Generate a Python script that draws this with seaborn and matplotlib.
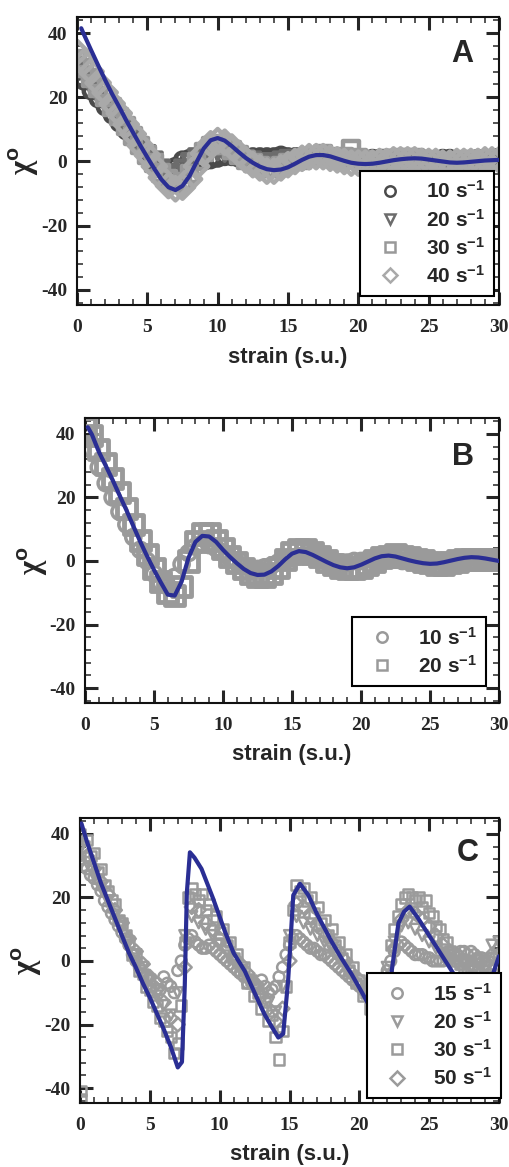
import numpy as np
import matplotlib
matplotlib.use("Agg")
import matplotlib.pyplot as plt
from matplotlib.lines import Line2D
from matplotlib.ticker import MultipleLocator
import seaborn as sns

# ---------------------------------------------------------------- panel A
a_strain = np.arange(0, 30.01, 0.5)
a_rate_10 = [28, 25, 22, 19.5, 17, 14.5, 12, 9.5, 7, 4.5,
             2, -0.5, -2.5, -3, -1.5, 0.5, 1, 0, 0, 0.5,
             1, 1.5, 1.5, 1, 1, 1.5, 1.5, 1.5, 1.5, 2,
             1.5, 1.5, 1.5, 1.5, 1.5, 1, 1, 1, 1, 1,
             1, 0.5, 1, 1, 1, 1, 1, 1, 1, 1,
             0.5, 0.5, 1, 1, 0.5, 0.5, 0.5, 1, 0.5, 0.5,
             0.5]
a_rate_20 = [30, 27, 23.5, 20.5, 18, 15.5, 12.5, 10, 7.5, 5,
             2.5, 0.5, -2, -3.5, -3.5, -2, 0, 1.5, 2.5, 3,
             3, 2.5, 2, 1.5, 1, 0.5, 0, 0, 0, 0.5,
             1, 1, 1.5, 1.5, 1.5, 1, 1, 0.5, 0.5, 0.5,
             0.5, 0.5, 0.5, 0.5, 1, 1, 1, 1, 0.5, 0.5,
             0.5, 0.5, 0, 0, 0, 0.5, 0.5, 0.5, 0.5, 0.5,
             0.5]
a_rate_30 = [32, 29, 26, 23, 20, 17, 14, 11, 8, 5,
             2, -0.5, -3.5, -5.5, -7, -6.5, -4, 0, 3, 5,
             5.5, 5, 3.5, 2, 0.5, -0.5, -1.5, -2, -2, -1.5,
             -0.5, 0, 0.5, 1, 1.5, 2.5, 1.5, 1, 1.5, 4,
             1, 0.5, 0, 0, 0.5, 0.5, 1, 1, 1, 0.5,
             0.5, 0, 0, 0, 0, 0.5, 0.5, 0.5, 0.5, 0.5,
             0.5]
a_rate_40 = [34, 31, 28, 24.5, 21.5, 18, 15, 11.5, 8.5, 5,
             2, -1.5, -5, -7.5, -8.5, -8, -5.5, -1.5, 2.5, 5.5,
             6.5, 6, 4.5, 2.5, 0.5, -1, -2, -3, -3, -2,
             -1, 0, 1, 1.5, 1.5, 1.5, 1, 0.5, 0, -0.5,
             -0.5, -0.5, -0.5, 0, 0, 0.5, 0.5, 0.5, 0.5, 0,
             0, 0, -0.5, -0.5, 0, 0, 0, 0, 0.5, 0.5,
             0.5]
a_fit_strain = np.concatenate([[0.3], np.arange(0.5, 30.01, 0.5)])
a_fit = [41.5, 39.5,
         34.7, 30.0, 25.4, 21.0, 17.0, 12.8, 8.9, 5.0, 1.3, -2.3,
         -5.6, -8.0, -8.9, -7.6, -4.5, -0.2, 4.0, 6.6, 7.3, 6.5,
         4.8, 2.9, 1.1, -0.4, -1.6, -2.4, -2.7, -2.5, -1.8, -0.7,
         0.5, 1.5, 2.0, 2.0, 1.6, 0.9, 0.2, -0.4, -0.7, -0.8,
         -0.7, -0.4, 0.0, 0.4, 0.7, 0.9, 1.0, 0.9, 0.6, 0.3,
         0.0, -0.3, -0.4, -0.3, -0.1, 0.1, 0.3, 0.4, 0.5]
a_labels = ["10 s$^{-1}$", "20 s$^{-1}$", "30 s$^{-1}$", "40 s$^{-1}$"]

# ---------------------------------------------------------------- panel B
b_strain = np.arange(0, 30.01, 0.5)
b_rate_10 = [40, 35, 29.5, 24.5, 20, 15.5, 11.5, 7.5, 3.5, 0,
             -4, -7, -8, -5, -1, 2.5, 4.5, 5.5, 5, 4,
             2.5, 1, -0.5, -1.5, -2.5, -2.5, -2, -1.5, -0.5, 0.5,
             1, 1.5, 1.5, 1, 0.5, 0, -0.5, -0.5, -0.5, 0,
             0, 0.5, 0.5, 0.5, 0.5, 0.5, 0, 0, 0, 0,
             0, 0, 0, 0, 0, 0, 0, 0.5, 0.5, 0.5,
             0.5]
b_rate_20 = [42, 39.5, 35, 30.5, 26, 21.5, 16.5, 11.5, 6.5, 2,
             -2.5, -6.5, -10, -11, -8, 0, 6, 8.5, 8.5, 6.5,
             4, 1.5, -0.5, -2.5, -4, -5, -5, -4, -2, 0.5,
             2.5, 3.5, 3.5, 2.5, 1.5, 0, -1, -2, -2.5, -2.5,
             -2, -1, 0, 1, 1.5, 2, 1.5, 1, 0.5, 0,
             -0.5, -1, -1, -0.5, 0, 0.5, 0.5, 0.5, 0.5, 0.5,
             0.5]
b_fit_strain = np.concatenate([[0.2], np.arange(0.5, 30.01, 0.5)])
b_fit = [42.1, 39.8,
         34.4, 30.0, 25.5, 20.7, 16.0, 11.0, 6.1, 1.5, -2.8, -6.8,
         -10.6, -10.9, -6.5, 1.0, 6.0, 7.9, 7.7, 6.0, 3.5, 1.3,
         -0.7, -2.5, -3.8, -4.4, -4.3, -3.3, -1.6, 0.5, 2.3, 3.1,
         2.8, 1.9, 0.8, -0.3, -1.3, -2.0, -2.3, -2.0, -1.2, -0.2,
         0.8, 1.5, 1.7, 1.4, 0.8, 0.2, -0.3, -0.7, -0.9, -0.8,
         -0.4, 0.1, 0.6, 1.0, 1.2, 1.1, 0.8, 0.4, 0.0]
b_labels = ["10 s$^{-1}$", "20 s$^{-1}$"]

# ---------------------------------------------------------------- panel C
c_strain = np.arange(0, 30.01, 0.5)
c_strain_fine = np.arange(0, 30.01, 0.25)
c_rate_15 = [32, 30, 29, 27,
             26, 24, 22, 19,
             17, 15, 13, 11,
             9, 7, 5, 2,
             0, -2, -4, -5,
             -6, -8, -7, -9,
             -5, -7, -8, -10,
             -3, 0, 5, 7,
             8, 6, 5, 4,
             4, 5, 4, 3,
             2, 1, 0, -1,
             -2, -3, -4, -5,
             -7, -6, -7, -8,
             -6, -8, -10, -9,
             -8, -5, -2, 2,
             5, 7, 8, 7,
             6, 5, 4, 4,
             3, 2, 2, 1,
             0, -1, -2, -3,
             -4, -5, -6, -7,
             -8, -9, -10, -11,
             -12, -11, -10, -7,
             -3, 0, 3, 5,
             6, 5, 4, 3,
             2, 2, 2, 1,
             1, 0, 0, 0,
             0, 1, 1, 2,
             2, 3, 3, 2,
             3, 2, 1, 1,
             0, 0, 1, 1,
             2]
c_rate_20 = [35, 31, 27, 23, 19, 14, 11, 6, 2, -2,
             -6, -11, -14, -17, -10, 8, 14, 12, 10, 8,
             5, 3, 0, -3, -6, -9, -12, -13, -16, -8,
             8, 14, 12, 10, 8, 6, 4, 1, -2, -5,
             -8, -11, -14, -13, -2, 6, 11, 12, 10, 8,
             6, 4, 2, 0, -1, -1, 0, -1, 0, 5,
             6]
c_rate_30 = [40, 36, 38, 33,
             34, 28, 29, 24,
             22, 19, 18, 13,
             12, 8, 6, 2,
             1, -3, -4, -8,
             -9, -13, -14, -18,
             -19, -22, -24, -29,
             -26, -14, 6, 20,
             23, 21, 19, 21,
             16, 18, 13, 14,
             9, 10, 5, 6,
             1, 2, -3, -2,
             -7, -6, -11, -10,
             -15, -13, -19, -17,
             -24, -31, -22, -8,
             6, 16, 24, 22,
             23, 19, 20, 15,
             17, 12, 13, 8,
             10, 5, 6, 1,
             2, -3, -2, -7,
             -6, -11, -10, -15,
             -14, -18, -17, -12,
             -4, 5, 10, 14,
             18, 20, 21, 20,
             19, 20, 17, 19,
             15, 14, 11, 10,
             7, 6, 3, 2,
             0, -1, -3, -2,
             -4, -3, -2, -4,
             -3, -2, -4, -8,
             -12]
c_rate_30_extra_strain = [0.05, 0.05]
c_rate_30_extra = [-41, -43.6]
c_rate_50 = [37, 33, 29, 25, 21, 16, 12, 7, 3, -1,
             -5, -9, -13, -18, -20, -2, 17, 16, 12, 10,
             7, 4, 1, -1, -4, -8, -11, -15, -19, -15,
             0, 18, 17, 14, 11, 9, 6, 3, 0, -4,
             -6, -9, -13, -16, -8, 4, 13, 16, 15, 13,
             11, 8, 5, 3, 1, 0, -1, 0, -1, 2,
             4]
c_fit_strain = [0.1, 0.5, 1.0, 1.5, 2.0, 2.5, 3.0, 3.5, 4.0, 4.5, 5.0, 5.5,
                6.0, 6.5, 7.0, 7.3, 7.5, 7.65, 7.87, 8.2, 8.7, 9.5, 10.4,
                11.0, 11.8, 12.5, 13.2, 13.7, 14.2, 14.55, 14.9, 15.27,
                15.75, 16.35, 17.0, 18.0, 18.7, 19.45, 20.2, 20.9, 21.6,
                21.9, 22.3, 22.8, 23.2, 23.6, 24.2, 25.0, 25.8, 26.7, 27.5,
                28.3, 29.0, 29.3, 29.6, 30.0]
c_fit = [43.3, 37.5, 31.0, 24.5, 19.0, 13.5, 8.0, 2.6, -2.0, -7.0, -11.5,
         -16.5, -21.5, -27.0, -33.5, -31.8, -8.0, 21.5, 34.2, 32.5, 29.0,
         20.0, 9.0, 2.5, -3.2, -10.0, -16.7, -20.5, -24.1, -22.9, -6.3,
         20.7, 24.3, 20.7, 14.5, 6.2, 1.0, -4.2, -10.0, -15.6, -20.0,
         -18.5, -3.7, 11.9, 15.5, 17.1, 13.5, 8.0, 2.5, -3.7, -8.5,
         -12.5, -15.0, -14.0, -3.7, 1.5]
c_labels = ["15 s$^{-1}$", "20 s$^{-1}$", "30 s$^{-1}$", "50 s$^{-1}$"]

# ---------------------------------------------------------------- styling
sns.set_style("ticks")
plt.rcParams.update({
    "font.family": ["Liberation Serif", "DejaVu Serif"],
    "font.weight": "bold",
    "axes.unicode_minus": False,
    "mathtext.fontset": "custom",
    "mathtext.rm": "Liberation Sans:bold",
    "mathtext.bf": "Liberation Sans:bold",
    "mathtext.it": "Liberation Sans:bold",
    "mathtext.default": "rm",
})

FIT_BLUE = "#2a2e94"
SANS = "Liberation Sans"

fig = plt.figure(figsize=(5.09, 11.67), dpi=100)
fig.patch.set_facecolor("white")
ax_a = fig.add_axes([77 / 509, 1 - 305 / 1167, 422 / 509, 288 / 1167])
ax_b = fig.add_axes([85 / 509, 1 - 703 / 1167, 414 / 509, 285 / 1167])
ax_c = fig.add_axes([80 / 509, 1 - 1103 / 1167, 419 / 509, 285 / 1167])


def style_axes(ax, letter, letter_pos):
    ax.set_xlim(0, 30)
    ax.set_ylim(-44.7, 45)
    ax.xaxis.set_major_locator(MultipleLocator(5))
    ax.xaxis.set_minor_locator(MultipleLocator(1))
    ax.yaxis.set_major_locator(MultipleLocator(20))
    ax.yaxis.set_minor_locator(MultipleLocator(4))
    ax.tick_params(which="both", direction="in", top=True, right=True)
    ax.tick_params(which="major", length=9.5, width=2.2, labelsize=14)
    ax.tick_params(axis="x", which="major", pad=10)
    ax.tick_params(axis="y", which="major", pad=7)
    ax.tick_params(which="minor", length=4.5, width=1.1)
    for sp in ax.spines.values():
        sp.set_linewidth(1.5)
        sp.set_color("#111111")
    ax.set_xlabel("strain (s.u.)", family=SANS, fontweight="bold", fontsize=16,
                  va="top")
    ax.xaxis.set_label_coords(0.5, -0.145)
    ax.set_ylabel("\u03c7$^{\\mathrm{o}}$", family="Liberation Serif",
                  fontweight="bold", fontsize=22)
    ax.yaxis.set_label_coords(-0.085, 0.5)
    ax.text(letter_pos[0], letter_pos[1], letter, transform=ax.transAxes,
            ha="center", va="center", fontsize=22, fontweight="bold",
            family=SANS, zorder=6)


def scatter_series(ax, x, y, marker, color, size, lw=1.5):
    sns.scatterplot(x=x, y=y, marker=marker, s=size, color=color,
                    facecolor="none", edgecolor=color, linewidth=lw,
                    ax=ax, legend=False, zorder=2)


def fit_line(ax, x, y):
    sns.lineplot(x=x, y=y, color=FIT_BLUE, linewidth=3.0, estimator=None,
                 ax=ax, zorder=4)


def add_legend(ax, markers, colors, labels, anchor):
    handles = [Line2D([], [], ls="none", marker=m, ms=7.5, mfc="none",
                      mec=c, mew=1.8) for m, c in zip(markers, colors)]
    leg = ax.legend(handles, labels, loc="lower right", bbox_to_anchor=anchor,
                    frameon=True, fancybox=False, framealpha=1,
                    edgecolor="black", borderpad=0.45, labelspacing=0.3,
                    handlelength=2.0, handletextpad=0.7, borderaxespad=0,
                    prop={"family": SANS, "weight": "bold", "size": 15})
    leg.get_frame().set_linewidth(1.5)
    leg.set_zorder(10)


# panel A: darker low-rate runs underneath, lighter high-rate runs on top
a_colors = ["#4a4a4a", "#6c6c6c", "#999999", "#a9a9a9"]
a_markers = ["o", "v", "s", "D"]
a_sizes = [110, 110, 130, 140]
for vals, m, c, s in zip([a_rate_10, a_rate_20, a_rate_30, a_rate_40],
                         a_markers, a_colors, a_sizes):
    scatter_series(ax_a, a_strain, vals, m, c, s, lw=3.2)
fit_line(ax_a, a_fit_strain, a_fit)
style_axes(ax_a, "A", (0.912, 0.872))
add_legend(ax_a, a_markers, a_colors, a_labels, (0.988, 0.031))

# panel B
b_gray = "#9a9a9a"
scatter_series(ax_b, b_strain, b_rate_20, "s", b_gray, 190, lw=3.5)
scatter_series(ax_b, b_strain, b_rate_10, "o", b_gray, 120, lw=2.5)
fit_line(ax_b, b_fit_strain, b_fit)
style_axes(ax_b, "B", (0.913, 0.863))
add_legend(ax_b, ["o", "s"], [b_gray, b_gray], b_labels, (0.9686, 0.06))

# panel C
c_gray = "#9b9b9b"
scatter_series(ax_c, c_strain_fine, c_rate_15, "o", c_gray, 60, lw=1.8)
scatter_series(ax_c, c_strain, c_rate_20, "v", c_gray, 60, lw=1.8)
scatter_series(ax_c, c_strain_fine, c_rate_30, "s", c_gray, 55, lw=1.8)
scatter_series(ax_c, c_rate_30_extra_strain, c_rate_30_extra, "s", c_gray, 55,
               lw=1.8)
scatter_series(ax_c, c_strain, c_rate_50, "D", c_gray, 50, lw=1.8)
fit_line(ax_c, c_fit_strain, c_fit)
style_axes(ax_c, "C", (0.926, 0.877))
add_legend(ax_c, ["o", "v", "s", "D"], [c_gray] * 4, c_labels, (1.005, 0.0165))

fig.savefig("out.png", dpi=100, facecolor="white")
